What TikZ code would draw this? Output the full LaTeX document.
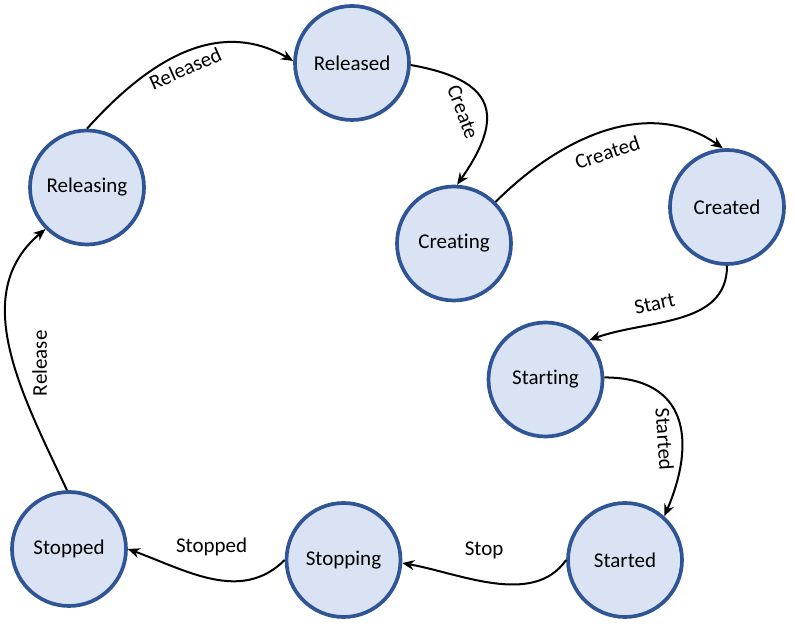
\documentclass[tikz,border=0pt]{standalone}
\usepackage{fontspec}
\setmainfont{Carlito}[Ligatures=NoCommon]
\usepackage{xcolor}
\usepackage{tikz}
\usetikzlibrary{arrows.meta, positioning}
\definecolor{stagefill}{RGB}{218,227,243}
\definecolor{stageline}{RGB}{47,85,151}

\begin{document}
\begin{tikzpicture}[x=1pt, y=1pt,
  stage/.style={circle, minimum size=114pt, inner sep=0pt, fill=stagefill, draw=stageline, line width=3.7pt, font=\fontsize{21}{25}\selectfont},
  trans/.style={line width=2pt, -{Stealth[length=12pt, width=10pt]}, font=\fontsize{21}{25}\selectfont}]
  \useasboundingbox (0, 0) rectangle (795, 631);

  \node [stage] (released) at (352, 568) {Released};
  \node [stage] (releasing) at (87, 443.5) {Releasing};
  \node [stage] (creating) at (454, 387.5) {Creating};
  \node [stage] (created) at (727, 424) {Created};
  \node [stage] (starting) at (545.5, 251.5) {Starting};
  \node [stage] (started) at (625, 71) {Started};
  \node [stage] (stopping) at (343.5, 71) {Stopping};
  \node [stage] (stopped) at (69, 82) {Stopped};

  \draw [trans] (releasing.90) to[out=48, in=150, looseness=1.05] node[pos=0.48, below=3pt, sloped] {Released} (released.178);
  \draw [trans] (released.-2) to[out=-10, in=55, looseness=1.7] node[below=11pt, sloped] {Create} (creating.87);
  \draw [trans] (creating.45) to[out=45, in=145] node[pos=0.48, below=9pt, sloped] {Created} (created.94);
  \draw [trans] (created.270) to[out=-90, in=20] node[pos=0.62, above=9pt, sloped] {Start} (starting.42);
  \draw [trans] (starting.2) to[out=0, in=67, looseness=1.4] node[pos=0.62, below=5pt, sloped] {Started} (started.48);
  \draw [trans] (started.180) to[out=-125, in=-10, looseness=0.9] node[pos=0.55, above=18pt] {Stop} (stopping.-3);
  \draw [trans] (stopping.180) to[out=-135, in=-20] node[above=18pt] {Stopped} (stopped.0);
  \draw [trans] (stopped.92) to[out=115, in=220] node[pos=0.45, xshift=14pt, rotate=90, anchor=north] {Release} (releasing.225);

\end{tikzpicture}
\end{document}
